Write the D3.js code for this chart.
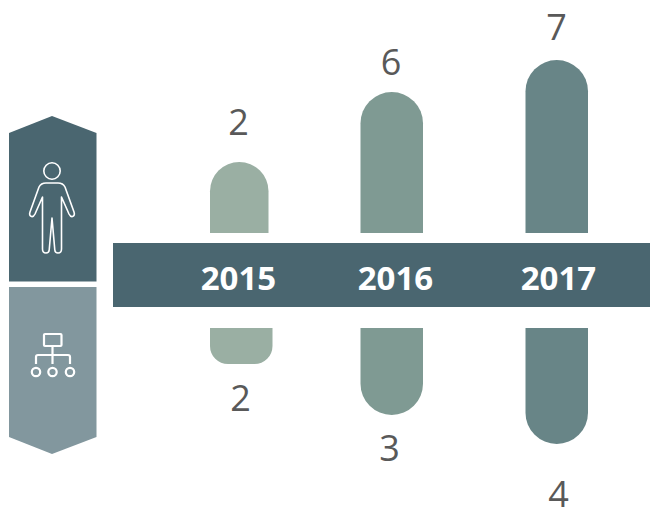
<!DOCTYPE html>
<html>
<head>
<meta charset="utf-8">
<script src="https://cdn.jsdelivr.net/npm/d3@7"></script>
<style>
  html, body { margin: 0; padding: 0; background: #fff; }
  svg { display: block; }
  text { font-family: "Open Sans", sans-serif; }
</style>
</head>
<body>
<div id="chart"></div>
<script>
var years = ["2015", "2016", "2017"]
var peopleValues = [2, 6, 7]
var orgValues = [2, 3, 4]
var barColors = ["#9aafa3", "#7f9a93", "#688587"]

var svg = d3.select("#chart").append("svg")
    .attr("width", 650)
    .attr("height", 510)

// the bars are not proportional in the original, so the scales have a stop per value
var yTop = d3.scaleLinear().domain([0, 2, 6, 7]).range([233, 162, 92, 60])
var yBottom = d3.scaleLinear().domain([0, 2, 3, 4]).range([328, 364, 415, 444])
var x = d3.scaleOrdinal().domain(years).range([210, 360.5, 525.5])
var topWidth = d3.scaleOrdinal().domain(years).range([58.5, 62.5, 62.5])
var bottomWidth = d3.scaleOrdinal().domain(years).range([62.5, 62.5, 62.5])
var labelX = d3.scaleOrdinal().domain(years).range([238.5, 395.5, 558.5])
var topLabelX = d3.scaleOrdinal().domain(years).range([238.5, 391, 556.5])
var bottomLabelX = d3.scaleOrdinal().domain(years).range([240.5, 389.5, 558.5])
var topLabelY = d3.scaleOrdinal().domain(years).range([135, 75, 39.5])
var bottomLabelY = d3.scaleOrdinal().domain(years).range([411, 461, 507])

// rectangle with only the two far corners rounded
function capBar(x0, w, y0, y1, r) {
    var dir = y1 < y0 ? 1 : -1
    var sweep = y1 < y0 ? 1 : 0
    return "M" + x0 + "," + y0 +
        "V" + (y1 + dir * r) +
        "A" + r + "," + r + " 0 0 " + sweep + " " + (x0 + r) + "," + y1 +
        "H" + (x0 + w - r) +
        "A" + r + "," + r + " 0 0 " + sweep + " " + (x0 + w) + "," + (y1 + dir * r) +
        "V" + y0 + "Z"
}

// Side banners
svg.append("path")
    .attr("d", "M9,281.5V133L52,116L96.5,133V281.5Z")
    .attr("fill", "#4a6670")
svg.append("path")
    .attr("d", "M9,287V437L52,454L96.5,437V287Z")
    .attr("fill", "#82979e")

// Person icon
var person = svg.append("g")
    .attr("fill", "none")
    .attr("stroke", "#fff")
    .attr("stroke-width", 1.6)
    .attr("stroke-linejoin", "round")
person.append("circle").attr("cx", 52).attr("cy", 171).attr("r", 8.2)
person.append("path")
    .attr("d", "M46,183H58C62,183 64,185 65,187L74,212C75,215 74,216 72.5,216.5C71,217 70,216 69,214L61.5,197V249C61.5,252 60,253 58,253C56,253 55,252 54.8,250L52,218L49.2,250C49,252 48,253 46,253C44,253 42.5,252 42.5,249V197L35,214C34,216 33,217 31.5,216.5C30,216 29,215 30,212L39,187C40,185 42,183 46,183Z")

// Org chart icon
var org = svg.append("g")
    .attr("fill", "none")
    .attr("stroke", "#fff")
    .attr("stroke-width", 2.2)
org.append("rect").attr("x", 44).attr("y", 334).attr("width", 17.5).attr("height", 12).attr("rx", 1)
org.append("path")
    .attr("d", "M52.5,346V364M36,364V357Q36,355 38,355H68Q70,355 70,357V364")
org.selectAll("circle")
    .data([36, 52.5, 70])
    .join("circle")
    .attr("cx", d => d)
    .attr("cy", 372)
    .attr("r", 4.2)

// Bars above the band
svg.selectAll(".bar-top")
    .data(years)
    .join("path")
    .attr("class", "bar-top")
    .attr("fill", (d, i) => barColors[i])
    .attr("d", (d, i) => capBar(x(d), topWidth(d), yTop(0), yTop(peopleValues[i]), topWidth(d) / 2))

// Bars below the band
svg.selectAll(".bar-bottom")
    .data(years)
    .join("path")
    .attr("class", "bar-bottom")
    .attr("fill", (d, i) => barColors[i])
    .attr("d", (d, i) => capBar(x(d), bottomWidth(d), yBottom(0), yBottom(orgValues[i]), Math.min(bottomWidth(d) / 2, (yBottom(orgValues[i]) - yBottom(0)) / 2)))

// Middle band
svg.append("rect")
    .attr("x", 113)
    .attr("y", 243)
    .attr("width", 537)
    .attr("height", 64)
    .attr("fill", "#4a6670")

svg.selectAll(".year")
    .data(years)
    .join("text")
    .attr("class", "year")
    .attr("x", d => labelX(d))
    .attr("y", 290)
    .attr("text-anchor", "middle")
    .attr("font-size", 33)
    .attr("font-weight", 700)
    .attr("fill", "#fff")
    .text(d => d)

// Value labels
svg.selectAll(".val-top")
    .data(years)
    .join("text")
    .attr("class", "val-top")
    .attr("x", d => topLabelX(d))
    .attr("y", d => topLabelY(d))
    .attr("text-anchor", "middle")
    .attr("font-size", 36)
    .attr("fill", "#595959")
    .text((d, i) => peopleValues[i])

svg.selectAll(".val-bottom")
    .data(years)
    .join("text")
    .attr("class", "val-bottom")
    .attr("x", d => bottomLabelX(d))
    .attr("y", d => bottomLabelY(d))
    .attr("text-anchor", "middle")
    .attr("font-size", 36)
    .attr("fill", "#595959")
    .text((d, i) => orgValues[i])
</script>
</body>
</html>
